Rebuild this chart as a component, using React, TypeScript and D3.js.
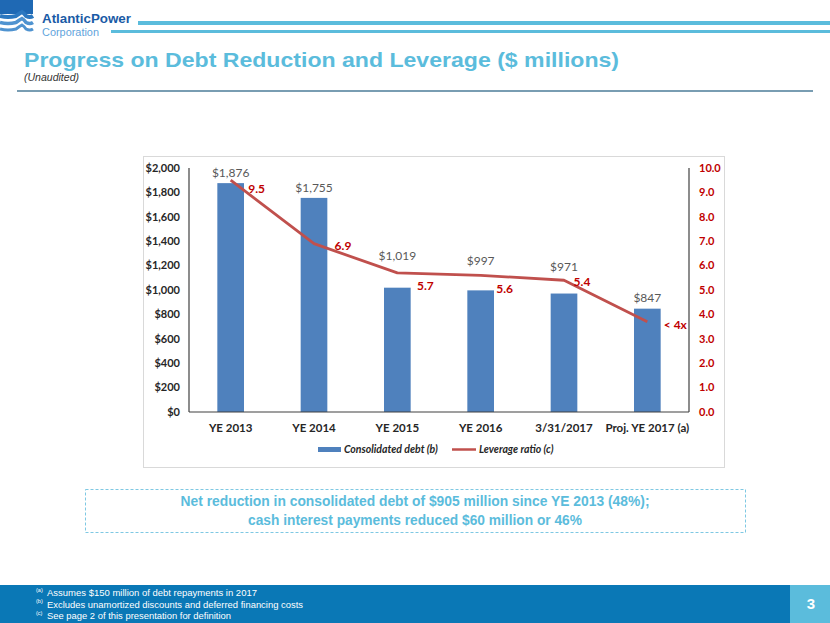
import React from "react";
import * as d3 from "d3";

const categories = ["YE 2013", "YE 2014", "YE 2015", "YE 2016", "3/31/2017", "Proj. YE 2017 (a)"];
const debt = [1876, 1755, 1019, 997, 971, 847];
const debtLabels = ["$1,876", "$1,755", "$1,019", "$997", "$971", "$847"];
const leverage = [9.5, 6.9, 5.7, 5.6, 5.4, 3.7];
const leverageLabels = ["9.5", "6.9", "5.7", "5.6", "5.4", "< 4x"];
const leftTicks = [0, 200, 400, 600, 800, 1000, 1200, 1400, 1600, 1800, 2000];
const rightTicks = [0, 1, 2, 3, 4, 5, 6, 7, 8, 9, 10];
const footnotes = [
  { mark: "(a)", text: "Assumes $150 million of debt repayments in 2017" },
  { mark: "(b)", text: "Excludes unamortized discounts and deferred financing costs" },
  { mark: "(c)", text: "See page 2 of this presentation for definition" },
];

// label nudges (style, not data)
const debtLabelGap = [10, 10, 32, 30, 27, 11];
const levLabelNudge: [number, number][] = [[26, 9], [29, 2], [28, 13], [24, 13], [18, 2], [28, 3]];
const footTextLen = [210, 256, 184];

const W = 830, H = 623;
const PL = 189, PR = 689, PT = 168, PB = 412;
const CHART_FONT = "Lato, 'Open Sans', sans-serif";
const SANS = "'Liberation Sans', Arial, sans-serif";

export default function App() {
  const x = d3.scaleBand<string>().domain(categories).range([PL, PR]).paddingInner(0.68).paddingOuter(0.34);
  const yL = d3.scaleLinear().domain([0, 2000]).range([PB, PT]);
  const yR = d3.scaleLinear().domain([0, 10]).range([PB, PT]);
  const cx = (c: string) => (x(c) as number) + x.bandwidth() / 2;
  const line = d3.line<number>().x((_, i) => cx(categories[i])).y((d) => yR(d));

  return (
    <svg width={W} height={H} style={{ position: "absolute", left: 0, top: 0, background: "#fff" }}>
      {/* logo */}
      <rect x={0} y={0} width={33} height={14} fill="#1f69b4" />
      {[16, 22.5, 29].map((yy, i) => (
        <path key={i}
          d={`M0,${yy} Q8,${yy + 2} 16,${yy} Q20,${yy - 3} 22,${yy - 4} Q24,${yy - 3} 26,${yy} Q30,${yy + 2} 33,${yy}`}
          fill="none" stroke={i === 0 ? "#2c78c0" : "#4f93d0"} strokeWidth={4 - i * 0.5} />
      ))}
      <text x={42} y={23} fontFamily={SANS} fontWeight="bold" fontSize={12.5} fill="#1a5ba6" textLength={89} lengthAdjust="spacingAndGlyphs">AtlanticPower</text>
      <text x={42} y={35.5} fontFamily={SANS} fontSize={10} fill="#5fa4dc" textLength={57} lengthAdjust="spacingAndGlyphs">Corporation</text>
      <rect x={138} y={21} width={W - 138} height={4} fill="#5bbcdc" />
      <rect x={111} y={30} width={W - 111} height={3} fill="#5bbcdc" />

      {/* title */}
      <text x={24} y={67} fontFamily={SANS} fontWeight="bold" fontSize={21} fill="#5bbcdc" textLength={595} lengthAdjust="spacingAndGlyphs">
        Progress on Debt Reduction and Leverage ($ millions)
      </text>
      <text x={24} y={81} fontFamily={SANS} fontStyle="italic" fontSize={10} fill="#333" textLength={55} lengthAdjust="spacingAndGlyphs">(Unaudited)</text>
      <line x1={17} x2={813} y1={91} y2={91} stroke="#4d7d99" strokeWidth={1.5} />

      {/* chart frame */}
      <rect x={143.5} y={156.5} width={581} height={311} fill="#fff" stroke="#d9d9d9" strokeWidth={1} />

      {/* bars */}
      {debt.map((v, i) => (
        <rect key={i} x={x(categories[i])} y={yL(v)} width={x.bandwidth()} height={PB - yL(v)} fill="#4f81bd" />
      ))}

      {/* axes */}
      <line x1={PL} x2={PL} y1={PT} y2={PB} stroke="#404040" strokeWidth={1.2} />
      <line x1={PR} x2={PR} y1={PT} y2={PB} stroke="#404040" strokeWidth={1.2} />
      <line x1={PL} x2={PR} y1={PB} y2={PB} stroke="#404040" strokeWidth={1.2} />

      {leftTicks.map((t) => (
        <text key={t} x={180} y={yL(t)} dy="0.35em" textAnchor="end" fontFamily={CHART_FONT} fontWeight="bold" fontSize={11} fill="#262626">
          {"$" + d3.format(",")(t)}
        </text>
      ))}
      {rightTicks.map((t) => (
        <text key={t} x={699} y={yR(t)} dy="0.35em" textAnchor="start" fontFamily={CHART_FONT} fontWeight="bold" fontSize={11} fill="#c00000">
          {t.toFixed(1)}
        </text>
      ))}
      {categories.map((c) => (
        <text key={c} x={cx(c)} y={428} dy="0.35em" textAnchor="middle" fontFamily={CHART_FONT} fontWeight="bold" fontSize={11.5} fill="#262626">
          {c}
        </text>
      ))}

      {/* debt labels */}
      {debt.map((v, i) => (
        <text key={i} x={cx(categories[i])} y={yL(v) - debtLabelGap[i]} dy="0.35em" textAnchor="middle" fontFamily={CHART_FONT} fontSize={12} fill="#595959">
          {debtLabels[i]}
        </text>
      ))}

      {/* leverage line */}
      <path d={line(leverage) || ""} fill="none" stroke="#c0504d" strokeWidth={2.8} strokeLinejoin="round" />
      {leverage.map((v, i) => (
        <text key={i} x={cx(categories[i]) + levLabelNudge[i][0]} y={yR(v) + levLabelNudge[i][1]} dy="0.35em" textAnchor="middle"
          fontFamily={CHART_FONT} fontWeight="bold" fontSize={12} fill="#c00000">
          {leverageLabels[i]}
        </text>
      ))}

      {/* legend */}
      <rect x={318} y={447} width={23} height={5} fill="#4f81bd" />
      <text x={344} y={449.5} dy="0.35em" fontFamily={CHART_FONT} fontStyle="italic" fontWeight="bold" fontSize={10.5} fill="#262626">Consolidated debt (b)</text>
      <line x1={452} x2={476} y1={449.5} y2={449.5} stroke="#c0504d" strokeWidth={2.5} />
      <text x={479} y={449.5} dy="0.35em" fontFamily={CHART_FONT} fontStyle="italic" fontWeight="bold" fontSize={10.5} fill="#262626">Leverage ratio (c)</text>

      {/* callout box */}
      <rect x={85.5} y={489.5} width={660} height={43} fill="none" stroke="#7ec8e3" strokeDasharray="3,2" strokeWidth={1} />
      <text x={415} y={501} dy="0.35em" textAnchor="middle" fontFamily={SANS} fontWeight="bold" fontSize={15} fill="#5bbcdc" textLength={469} lengthAdjust="spacingAndGlyphs">
        Net reduction in consolidated debt of $905 million since YE 2013 (48%);
      </text>
      <text x={415} y={520} dy="0.35em" textAnchor="middle" fontFamily={SANS} fontWeight="bold" fontSize={15} fill="#5bbcdc" textLength={334} lengthAdjust="spacingAndGlyphs">
        cash interest payments reduced $60 million or 46%
      </text>

      {/* footer */}
      <rect x={0} y={585} width={W} height={H - 585} fill="#0a78b6" />
      <rect x={790} y={585} width={W - 790} height={H - 585} fill="#5bbcdc" />
      <text x={811} y={604} dy="0.35em" textAnchor="middle" fontFamily={SANS} fontWeight="bold" fontSize={15} fill="#fff">3</text>
      {footnotes.map((f, i) => (
        <g key={i}>
          <text x={36} y={590 + i * 11.5} dy="0.35em" fontFamily={SANS} fontSize={5.5} fill="#fff">{f.mark}</text>
          <text x={47} y={593 + i * 11.5} dy="0.35em" fontFamily={SANS} fontSize={9} fill="#fff" textLength={footTextLen[i]} lengthAdjust="spacingAndGlyphs">{f.text}</text>
        </g>
      ))}
    </svg>
  );
}
